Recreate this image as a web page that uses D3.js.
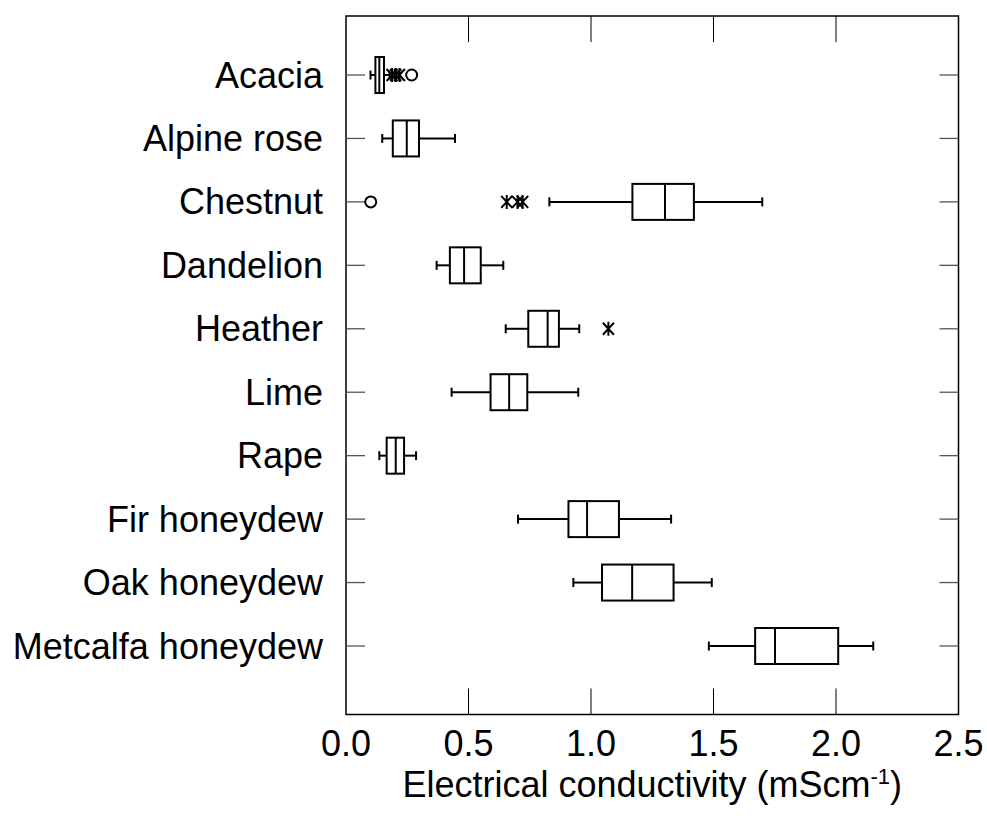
<!DOCTYPE html>
<html>
<head>
<meta charset="utf-8">
<script src="https://cdn.jsdelivr.net/npm/d3@7"></script>
<style>
  html, body { margin: 0; padding: 0; background: #fff; }
  svg { display: block; font-family: Arial, "Liberation Sans", sans-serif; }
</style>
</head>
<body>
<svg id="chart" width="987" height="818"></svg>
<script>
// ---- data ----
const categories = ["Acacia", "Alpine rose", "Chestnut", "Dandelion", "Heather", "Lime", "Rape", "Fir honeydew", "Oak honeydew", "Metcalfa honeydew"];
const whiskerLow  = [0.100, 0.148, 0.830, 0.370, 0.652, 0.431, 0.136, 0.702, 0.928, 1.481];
const q1          = [0.120, 0.191, 1.169, 0.424, 0.744, 0.590, 0.166, 0.908, 1.045, 1.670];
const median      = [0.136, 0.248, 1.302, 0.482, 0.823, 0.666, 0.203, 0.984, 1.168, 1.751];
const q3          = [0.155, 0.298, 1.420, 0.550, 0.869, 0.740, 0.237, 1.114, 1.337, 2.009];
const whiskerHigh = [0.178, 0.445, 1.699, 0.642, 0.952, 0.948, 0.286, 1.327, 1.493, 2.152];
const outlierCircles   = [[0.268], [], [0.101], [], [], [], [], [], [], []];
const outlierAsterisks = [[0.188, 0.203, 0.218], [], [0.656, 0.700, 0.721], [], [1.071], [], [], [], [], []];
const xTicks = [0.0, 0.5, 1.0, 1.5, 2.0, 2.5];
const xTitle = "Electrical conductivity (mScm";
const xTitleSup = "-1";

// ---- layout ----
const svg = d3.select("#chart");
const pLeft = 346, pRight = 958.5, pTop = 16, pBottom = 714.5;
const x = d3.scaleLinear().domain([0, 2.5]).range([pLeft, pRight]);
const y = d3.scalePoint().domain(categories).range([75, 646]);
const boxH = 36, capH = 9;
const fs = 36;

// frame
svg.append("rect")
  .attr("x", pLeft).attr("y", pTop)
  .attr("width", pRight - pLeft).attr("height", pBottom - pTop)
  .attr("fill", "none").attr("stroke", "#000").attr("stroke-width", 1.5);

// x ticks (inward, bottom and top)
const inner = xTicks.filter(t => t > 0 && t < 2.5);
svg.append("g").selectAll("line").data(inner).join("line")
  .attr("x1", d => x(d)).attr("x2", d => x(d))
  .attr("y1", pBottom).attr("y2", pBottom - 26)
  .attr("stroke", "#000").attr("stroke-width", 1);
svg.append("g").selectAll("line").data(inner).join("line")
  .attr("x1", d => x(d)).attr("x2", d => x(d))
  .attr("y1", pTop).attr("y2", pTop + 26)
  .attr("stroke", "#000").attr("stroke-width", 1);

// x tick labels
svg.append("g").selectAll("text").data(xTicks).join("text")
  .attr("x", d => x(d)).attr("y", 756)
  .attr("text-anchor", "middle")
  .attr("font-size", fs)
  .attr("fill", "#000")
  .text(d => d3.format(".1f")(d));

// x title
const title = svg.append("text")
  .attr("x", (pLeft + pRight) / 2).attr("y", 797)
  .attr("text-anchor", "middle")
  .attr("font-size", fs)
  .attr("fill", "#000");
title.append("tspan").text(xTitle);
title.append("tspan").attr("font-size", 22).attr("dy", -13).text(xTitleSup);
title.append("tspan").attr("dy", 13).text(")");

// y ticks (inward, both sides)
svg.append("g").selectAll("line").data(categories).join("line")
  .attr("x1", pLeft).attr("x2", pLeft + 19)
  .attr("y1", d => y(d)).attr("y2", d => y(d))
  .attr("stroke", "#555").attr("stroke-width", 1.3);
svg.append("g").selectAll("line").data(categories).join("line")
  .attr("x1", pRight).attr("x2", pRight - 19)
  .attr("y1", d => y(d)).attr("y2", d => y(d))
  .attr("stroke", "#555").attr("stroke-width", 1.3);

// y labels
svg.append("g").selectAll("text").data(categories).join("text")
  .attr("x", 323).attr("y", d => y(d))
  .attr("dy", "0.35em")
  .attr("text-anchor", "end")
  .attr("font-size", fs)
  .attr("fill", "#000")
  .text(d => d);

// boxplots
const rows = categories.map((c, i) => ({
  c, lo: whiskerLow[i], q1: q1[i], med: median[i], q3: q3[i], hi: whiskerHigh[i],
  circ: outlierCircles[i], ast: outlierAsterisks[i]
}));

const g = svg.append("g").attr("stroke", "#000").attr("stroke-width", 2).attr("fill", "none");
rows.forEach(r => {
  const cy = y(r.c);
  g.append("line").attr("x1", x(r.lo)).attr("x2", x(r.q1)).attr("y1", cy).attr("y2", cy);
  g.append("line").attr("x1", x(r.q3)).attr("x2", x(r.hi)).attr("y1", cy).attr("y2", cy);
  g.append("line").attr("x1", x(r.lo)).attr("x2", x(r.lo)).attr("y1", cy - capH / 2).attr("y2", cy + capH / 2);
  g.append("line").attr("x1", x(r.hi)).attr("x2", x(r.hi)).attr("y1", cy - capH / 2).attr("y2", cy + capH / 2);
  g.append("rect").attr("x", x(r.q1)).attr("y", cy - boxH / 2)
    .attr("width", x(r.q3) - x(r.q1)).attr("height", boxH).attr("fill", "#fff");
  g.append("line").attr("x1", x(r.med)).attr("x2", x(r.med)).attr("y1", cy - boxH / 2).attr("y2", cy + boxH / 2);
  r.circ.forEach(v => {
    g.append("circle").attr("cx", x(v)).attr("cy", cy).attr("r", 5.5).attr("fill", "#fff");
  });
  r.ast.forEach(v => {
    const px = x(v);
    g.append("path")
      .attr("d", `M${px - 5.5},${cy - 6}L${px + 5.5},${cy + 6}M${px - 5.5},${cy + 6}L${px + 5.5},${cy - 6}M${px},${cy - 7}L${px},${cy + 7}`)
      .attr("stroke-width", 2);
  });
});
</script>
</body>
</html>
